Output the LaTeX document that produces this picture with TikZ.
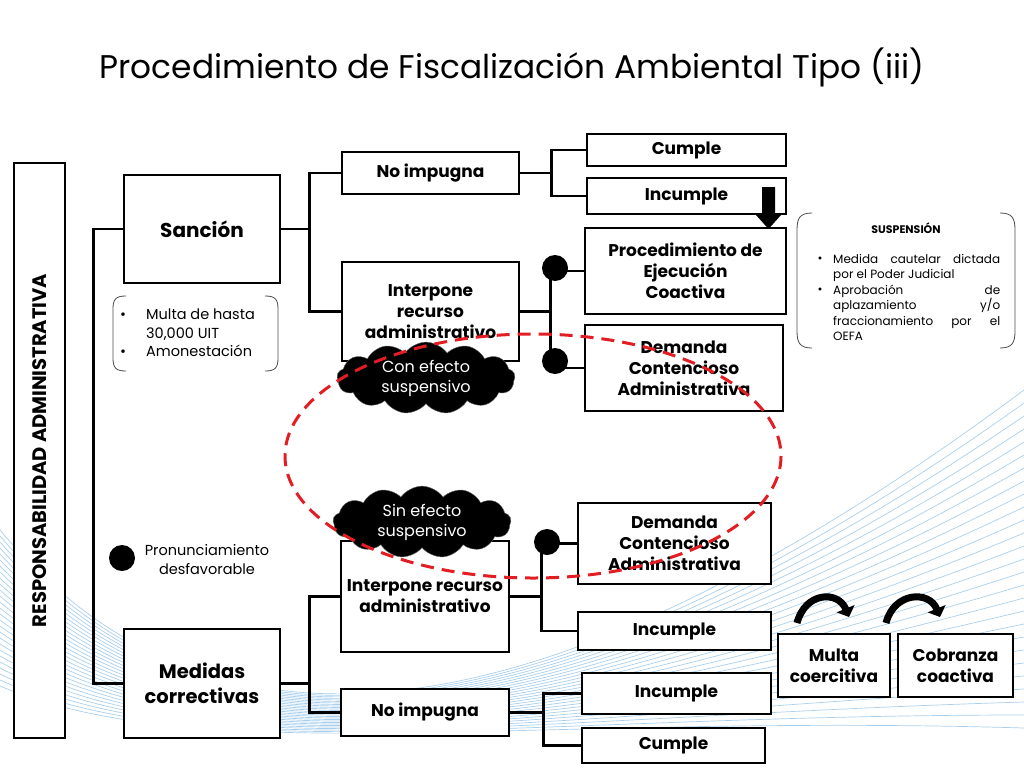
\documentclass[tikz,border=0pt]{standalone}
\usepackage{fontspec}
\setmainfont{Poppins}
\usetikzlibrary{shapes.symbols,arrows.meta}
\begin{document}
\begin{tikzpicture}[x=1pt,y=-1pt,
  box/.style={draw, line width=2.6pt, fill=white, align=center, inner sep=2pt,
    font=\bfseries\fontsize{17}{21}\selectfont},
  note/.style={line width=0.8pt, draw=black!70},
  dot/.style={circle, fill=black, minimum size=26pt, inner sep=0pt},
  blob/.style={cloud, cloud puffs=13, cloud puff arc=110, aspect=3.4, fill=black, draw=black!60,
    text=white, align=center, inner sep=0pt, font=\fontsize{16}{20}\selectfont},
  link/.style={line width=2.6pt},
  bul/.style={inner sep=0pt, anchor=base},
  swoosh/.style={line width=0.7pt, draw=cyan!60!blue, opacity=0.36}]
\useasboundingbox (0,0) rectangle (1024,768);
% background swooshes
\foreach \i in {0,...,26}{
  \draw[swoosh] (0,530+\i*6) .. controls (200,770) and (520,765-\i*2) .. (1024,390+\i*13);
}
% title
\node[font=\fontsize{32.8}{38}\selectfont] (title) at (512,67) {Procedimiento de Fiscalización Ambiental Tipo (iii)};
% left vertical box
\node[box, minimum width=51pt, minimum height=575pt] (resp) at (39.5,450.5) {};
\node[rotate=90, font=\bfseries\fontsize{19.5}{22}\selectfont] (resptext) at (resp.center) {RESPONSABILIDAD ADMINISTRATIVA};
% main boxes
\node[box, minimum width=156pt, minimum height=108pt, font=\bfseries\fontsize{20}{25}\selectfont] (sancion) at (202,229) {Sanción};
\node[box, minimum width=156pt, minimum height=109pt, font=\bfseries\fontsize{19.5}{25}\selectfont] (medidas) at (202,683.5) {Medidas\\correctivas};
\node[box, minimum width=177pt, minimum height=42pt] (noimp1) at (430.5,173) {No impugna};
\node[box, minimum width=177pt, minimum height=99pt] (interp1) at (430.5,311.5) {Interpone\\recurso\\administrativo};
\node[box, minimum width=199pt, minimum height=32pt] (cumple1) at (686.5,150) {Cumple};
\node[box, minimum width=199pt, minimum height=36pt] (incumple1) at (686.5,196) {Incumple};
\node[box, minimum width=201pt, minimum height=86pt] (pec) at (685.5,271) {Procedimiento de\\Ejecución\\Coactiva};
\node[box, minimum width=198pt, minimum height=86pt] (dca1) at (684,368) {Demanda\\Contencioso\\Administrativa};
\node[box, minimum width=168pt, minimum height=111pt] (interp2) at (425,596.5) {Interpone recurso\\administrativo};
\node[box, minimum width=193pt, minimum height=81pt] (dca2) at (674.5,543.5) {Demanda\\Contencioso\\Administrativa};
\node[box, minimum width=193pt, minimum height=38pt] (incumple2) at (674.5,631) {Incumple};
\node[box, minimum width=168pt, minimum height=47pt] (noimp2) at (425,712.5) {No impugna};
\node[box, minimum width=189pt, minimum height=41pt] (incumple3) at (676.5,693.5) {Incumple};
\node[box, minimum width=183pt, minimum height=35pt] (cumple3) at (673.5,745.5) {Cumple};
\node[box, minimum width=112pt, minimum height=63pt] (multa) at (834,665.5) {Multa\\coercitiva};
\node[box, minimum width=115pt, minimum height=63pt] (cobranza) at (955.5,665.5) {Cobranza\\coactiva};
% connectors
\draw[link] (sancion.west) -- ++(-29,0) |- (medidas.west);
\coordinate (j1) at (311,229);
\draw[link] (sancion.east) -- (j1);
\draw[link] (noimp1.west) -- ++(-31,0) |- (interp1.west);
\coordinate (j2) at (553,173);
\draw[link] (noimp1.east) -- (j2);
\draw[link] (cumple1.west) -- ++(-34,0) |- (incumple1.west);
\coordinate (j3) at (552,311.5);
\draw[link] (interp1.east) -- (j3);
\draw[link] (pec.west) -- ++(-33,0) |- (dca1.west);
\coordinate (j4) at (311,683.5);
\draw[link] (medidas.east) -- (j4);
\draw[link] (interp2.west) -- ++(-30,0) |- (noimp2.west);
\coordinate (j5) at (543,596.5);
\draw[link] (interp2.east) -- (j5);
\draw[link] (dca2.west) -- ++(-35,0) |- (incumple2.west);
\coordinate (j6) at (545,712.5);
\draw[link] (noimp2.east) -- (j6);
\draw[link] (incumple3.west) -- ++(-37,0) |- (cumple3.west);
% dots
\node[dot] (dot1) at (555,268) {};
\node[dot] (dot2) at (555,361) {};
\node[dot] (dot3) at (547,542) {};
\node[dot] (dot4) at (122,558) {};
\node[font=\fontsize{14.5}{19}\selectfont, align=center] (pron) at (207,560) {Pronunciamiento\\desfavorable};
% block arrow Incumple -> PEC
\fill (762,187) -- (775,187) -- (775,215) -- (781,215) -- (768.5,229) -- (756,215) -- (762,215) -- cycle;
% curved arrows
\draw[line width=7pt, -{Triangle[length=9pt,width=19pt]}] (797,623) .. controls (805,592) and (838,590) .. (849,617);
\draw[line width=7pt, -{Triangle[length=9pt,width=19pt]}] (886,623) .. controls (894,592) and (929,590) .. (940,617);
% sanction note
\draw[note] (126,296) .. controls (116,296) and (113,299) .. (113,309) -- (113,358) .. controls (113,368) and (116,371) .. (126,371);
\draw[note] (265,296) .. controls (275,296) and (278,299) .. (278,309) -- (278,358) .. controls (278,368) and (275,371) .. (265,371);
\node[font=\fontsize{14.5}{18.5}\selectfont, align=left, inner sep=0pt, anchor=north west] (sannote) at (146,309)
  {Multa de hasta\\30,000 UIT\\Amonestación};
\node[bul, font=\fontsize{14.5}{18.5}\selectfont] (sb1) at (123,319) {•};
\node[bul, font=\fontsize{14.5}{18.5}\selectfont] (sb2) at (123,356) {•};
% suspension note
\draw[note] (812,213) .. controls (800,213) and (797,218) .. (797,230) -- (797,331) .. controls (797,343) and (800,348) .. (812,348);
\draw[note] (1000,213) .. controls (1012,213) and (1015,218) .. (1015,230) -- (1015,331) .. controls (1015,343) and (1012,348) .. (1000,348);
\node[font=\bfseries\fontsize{11}{12}\selectfont] (susptitle) at (906,228) {SUSPENSIÓN};
\node[font=\fontsize{12}{15.5}\selectfont, text width=167pt, align=justify, inner sep=0pt, anchor=north west] (suspnote) at (833,254)
  {Medida cautelar dictada\linebreak por el Poder Judicial\par
   Aprobación de\linebreak aplazamiento y/o\linebreak fraccionamiento por el\linebreak OEFA};
\node[bul, font=\fontsize{12}{15.5}\selectfont] (pb1) at (820,262) {•};
\node[bul, font=\fontsize{12}{15.5}\selectfont] (pb2) at (820,293) {•};
% clouds
\node[blob, minimum width=178pt, minimum height=52pt] (cloud1) at (426,378) {Con efecto\\suspensivo};
\node[blob, minimum width=178pt, minimum height=56pt] (cloud2) at (422,522) {Sin efecto\\suspensivo};
% red dashed ellipse
\draw[draw={rgb,255:red,226;green,30;blue,36}, line width=3pt, dash pattern=on 13pt off 8pt] (533,456) ellipse [x radius=248, y radius=122];
\end{tikzpicture}
\end{document}
